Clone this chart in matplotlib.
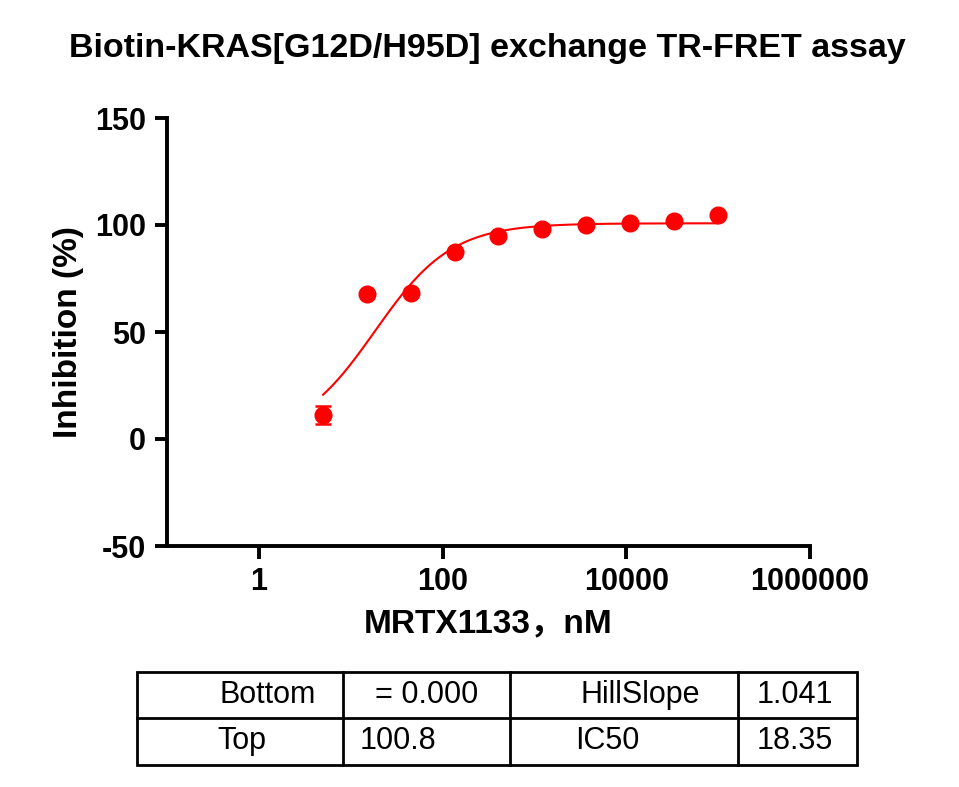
import numpy as np
import matplotlib
matplotlib.use("Agg")
import matplotlib.pyplot as plt

plt.rcParams['font.family'] = ['Liberation Sans', 'DejaVu Sans']
plt.rcParams['axes.unicode_minus'] = False

conc = [5, 15, 45, 135, 405, 1215, 3645, 10935, 32805, 98415]
inhib = [11.2, 67.8, 68.2, 87.5, 95.0, 98.0, 100.0, 101.0, 102.0, 104.5]
err = [4.0, 0, 0, 0, 0, 0, 0, 0, 0, 0]
bottom, top, ic50, hill = 0.0, 100.8, 18.35, 1.041
table_rows = [["Bottom", "= 0.000", "HillSlope", "1.041"],
              ["Top", "100.8", "IC50", "18.35"]]

fig = plt.figure(figsize=(9.59, 7.87), dpi=100)
ax = fig.add_axes([167/959, 1-546/787, (810-167)/959, (546-118)/787])
xx = np.logspace(np.log10(conc[0]), np.log10(conc[-1]), 300)
yy = bottom + (top-bottom)/(1+(ic50/xx)**hill)
ax.plot(xx, yy, color='red', lw=1.5)
ax.errorbar(conc, inhib, yerr=err, fmt='o', color='red', ms=12, capsize=6, elinewidth=1.8, capthick=1.8)
ax.set_xscale('log')
ax.set_xlim(0.1, 1e6)
ax.set_ylim(-50, 150)
ax.set_xticks([1, 100, 10000, 1000000])
ax.set_xticklabels(['1', '100', '10000', '1000000'])
ax.minorticks_off()
ax.set_yticks([-50, 0, 50, 100, 150])
for s in ['top', 'right']:
    ax.spines[s].set_visible(False)
for s in ['left', 'bottom']:
    ax.spines[s].set_linewidth(2.8)
ax.tick_params(width=2.8, length=9, labelsize=22, pad=6)
for l in ax.get_xticklabels() + ax.get_yticklabels():
    l.set_fontweight('bold')
ax.set_xlabel('MRTX1133，nM', fontsize=24, fontweight='bold',
              family=['Liberation Sans', 'Noto Sans CJK SC'], labelpad=8)
ax.set_ylabel('Inhibition (%)', fontsize=24, fontweight='bold', labelpad=8)
fig.text(0.508, 1-48/787, 'Biotin-KRAS[G12D/H95D] exchange TR-FRET assay',
         ha='center', va='center', fontsize=24.5, fontweight='bold')

# table
W, H = 959, 787
x0, x1, y0, y1, ym = 137, 857, 672, 765, 718
cols = [137, 343, 510, 738, 857]
lw = 2
fig.add_artist(plt.Rectangle((x0/W, 1-y1/H), (x1-x0)/W, (y1-y0)/H, fill=False, lw=lw, transform=fig.transFigure))
fig.add_artist(plt.Line2D([x0/W, x1/W], [1-ym/H]*2, lw=lw, color='k', transform=fig.transFigure))
for c in cols[1:-1]:
    fig.add_artist(plt.Line2D([c/W]*2, [1-y0/H, 1-y1/H], lw=lw, color='k', transform=fig.transFigure))
pos = [[268, 427, 640, 795], [242, 398, 607, 795]]
for r, row in enumerate(table_rows):
    yc = [695, 741][r]
    for i, t in enumerate(row):
        fig.text(pos[r][i]/W, 1-yc/H, t, ha='center', va='center', fontsize=22)
fig.savefig('out.png', dpi=100)
